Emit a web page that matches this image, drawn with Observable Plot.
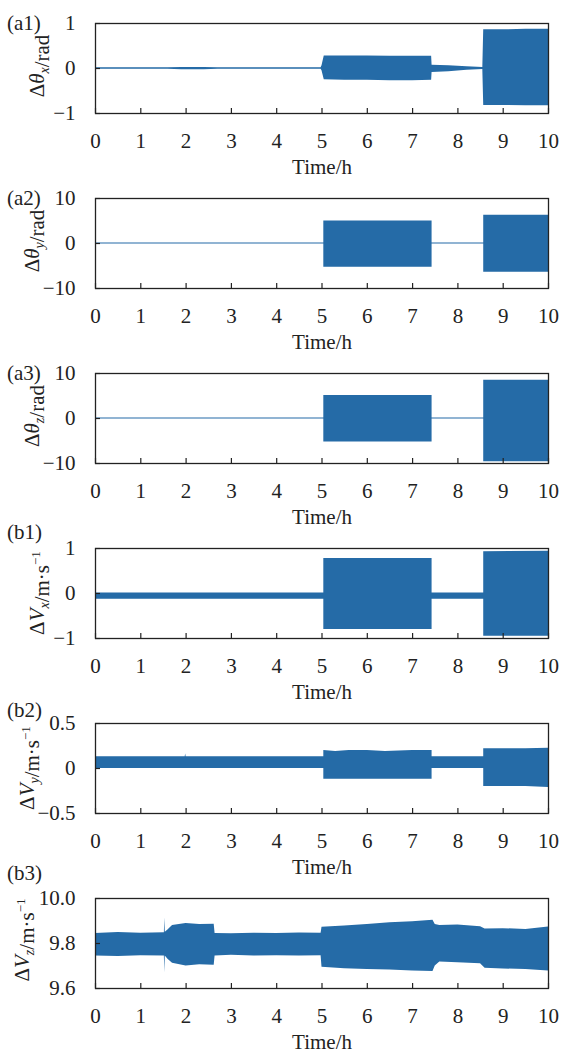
<!DOCTYPE html>
<html><head><meta charset="utf-8">
<script src="https://cdn.jsdelivr.net/npm/d3@7"></script>
<script src="https://cdn.jsdelivr.net/npm/@observablehq/plot@0.6"></script>
<style>
html,body{margin:0;padding:0;background:#fff;}
#chart{width:563px;}
#chart svg{display:block;overflow:visible;}
</style></head><body><div id="chart"></div>
<script>
// Shared x ticks (hours)
const xTicks = [0,1,2,3,4,5,6,7,8,9,10];

// (a1) Δθx envelope
const timeA1  = [0,     1.6,   1.9,   2.4,   2.7,   4.98,  5.0,   5.05,  5.5,   6.0,   6.5,   7.0,   7.42,  7.43,  7.8,   8.2,   8.55,  8.57,  9.0,   9.5,   10];
const upperA1 = [0.015, 0.015, 0.025, 0.025, 0.015, 0.015, 0.06,  0.28,  0.28,  0.28,  0.27,  0.27,  0.27,  0.07,  0.06,  0.04,  0.025, 0.86,  0.86,  0.87,  0.87];
const lowerA1 = [-0.015,-0.015,-0.025,-0.025,-0.015,-0.015,-0.05, -0.25, -0.26, -0.26, -0.27, -0.27, -0.26, -0.09, -0.07, -0.04, -0.02, -0.82, -0.82, -0.83, -0.83];
const yTicksA1 = [-1, 0, 1];

// (a2) Δθy envelope
const timeA2  = [0,    5.04, 5.04, 7.43, 7.43, 8.57, 8.57, 10];
const upperA2 = [0.11, 0.11, 5.0,  5.0,  0.11, 0.11, 6.3,  6.3];
const lowerA2 = [-0.11,-0.11,-5.3, -5.3, -0.11,-0.11,-6.4, -6.4];
const yTicksA2 = [-10, 0, 10];

// (a3) Δθz envelope
const timeA3  = [0,    5.04, 5.04, 7.43, 7.43, 8.57, 8.57, 10];
const upperA3 = [0.11, 0.11, 5.1,  5.1,  0.11, 0.11, 8.5,  8.5];
const lowerA3 = [-0.11,-0.11,-5.2, -5.2, -0.11,-0.11,-9.6, -9.6];
const yTicksA3 = [-10, 0, 10];

// (b1) ΔVx envelope
const timeB1  = [0,     5.04,  5.04,  7.43,  7.43,  8.57,  8.57,  10];
const upperB1 = [0.01,  0.01,  0.78,  0.78,  0.01,  0.01,  0.93,  0.94];
const lowerB1 = [-0.13, -0.13, -0.80, -0.80, -0.13, -0.13, -0.95, -0.95];
const yTicksB1 = [-1, 0, 1];

// (b2) ΔVy envelope
const timeB2  = [0,    1.98, 1.99, 2.0,  5.04, 5.04, 5.3,  5.6,  6.0,  6.4,  7.0,  7.43, 7.43, 8.57, 8.57, 9.5,  10];
const upperB2 = [0.13, 0.13, 0.16, 0.13, 0.13, 0.20, 0.19, 0.20, 0.20, 0.19, 0.20, 0.20, 0.13, 0.13, 0.22, 0.22, 0.225];
const lowerB2 = [0.0,  0.0,  0.0,  0.0,  0.0, -0.12,-0.12,-0.12,-0.12,-0.12,-0.12,-0.12, 0.0,  0.0, -0.20,-0.20,-0.21];
const yTicksB2 = [-0.5, 0, 0.5];

// (b3) ΔVz envelope
const timeB3  = [0,     0.5,   1.0,   1.52,  1.53,  1.54,  1.6,   1.7,   2.0,   2.3,   2.62,  2.64,  3.0,   3.5,   4.0,   4.5,   4.98,  5.0,   5.5,   6.0,   6.5,   7.0,   7.45,  7.5,   7.6,   8.0,   8.5,   8.6,   9.0,   9.5,   10];
const upperB3 = [9.845, 9.849, 9.846, 9.848, 9.913, 9.85,  9.86,  9.88,  9.889, 9.884, 9.886, 9.845, 9.843, 9.846, 9.844, 9.847, 9.846, 9.872, 9.878, 9.885, 9.892, 9.897, 9.903, 9.885, 9.88,  9.882, 9.875, 9.865, 9.866, 9.862, 9.873];
const lowerB3 = [9.745, 9.742, 9.746, 9.745, 9.67,  9.745, 9.73,  9.712, 9.70,  9.706, 9.703, 9.745, 9.748, 9.744, 9.746, 9.745, 9.746, 9.695, 9.688, 9.685, 9.682, 9.678, 9.676, 9.70,  9.718, 9.714, 9.71,  9.69,  9.687, 9.684, 9.678];
const yTicksB3 = [9.6, 9.8, 10.0];

// Text
const panelTags = ["(a1)", "(a2)", "(a3)", "(b1)", "(b2)", "(b3)"];
const xLabel = "Time/h";
// y labels: [text, kind] kind: "" normal, "i" italic, "sub" italic subscript, "sup" superscript
const yLabelA1 = [["Δ",""],["θ","i"],["x","sub"],["/rad",""]];
const yLabelA2 = [["Δ",""],["θ","i"],["y","sub"],["/rad",""]];
const yLabelA3 = [["Δ",""],["θ","i"],["z","sub"],["/rad",""]];
const yLabelB1 = [["Δ",""],["V","i"],["x","sub"],["/m·s",""],["−1","sup"]];
const yLabelB2 = [["Δ",""],["V","i"],["y","sub"],["/m·s",""],["−1","sup"]];
const yLabelB3 = [["Δ",""],["V","i"],["z","sub"],["/m·s",""],["−1","sup"]];

const panels = [
  {tag: panelTags[0], t: timeA1, up: upperA1, lo: lowerA1, domain: [-1, 1],     ticks: yTicksA1, label: yLabelA1, labelX: 44, labelY: 66, tagY: 30, fmt: d3.format("")},
  {tag: panelTags[1], t: timeA2, up: upperA2, lo: lowerA2, domain: [-10, 10],   ticks: yTicksA2, label: yLabelA2, labelX: 39, labelY: 66, tagY: 30, fmt: d3.format("")},
  {tag: panelTags[2], t: timeA3, up: upperA3, lo: lowerA3, domain: [-10, 10],   ticks: yTicksA3, label: yLabelA3, labelX: 39, labelY: 66, tagY: 30, fmt: d3.format("")},
  {tag: panelTags[3], t: timeB1, up: upperB1, lo: lowerB1, domain: [-1, 1],     ticks: yTicksB1, label: yLabelB1, labelX: 44, labelY: 68, tagY: 14, fmt: d3.format("")},
  {tag: panelTags[4], t: timeB2, up: upperB2, lo: lowerB2, domain: [-0.5, 0.5], ticks: yTicksB2, label: yLabelB2, labelX: 34, labelY: 68, tagY: 17, fmt: d3.format("")},
  {tag: panelTags[5], t: timeB3, up: upperB3, lo: lowerB3, domain: [9.6, 10.0], ticks: yTicksB3, label: yLabelB3, labelX: 29, labelY: 65, tagY: 5,  fmt: d3.format(".1f")}
];

const blue = "#256ba7";
const ink = "#222";
const font = '"Liberation Serif", "Times New Roman", serif';
const W = 563, H = 175, ML = 95, MR = 15, MT = 23, MB = 62, TICK = 5;

const root = document.getElementById("chart");
for (const p of panels) {
  const rows = p.t.map((t, i) => ({t, hi: p.up[i], lo: p.lo[i]}));
  const svg = Plot.plot({
    width: W, height: H,
    marginLeft: ML, marginRight: MR, marginTop: MT, marginBottom: MB,
    style: {fontFamily: font, fontSize: "21px", color: ink, background: "transparent", overflow: "visible"},
    x: {domain: [0, 10]},
    y: {domain: p.domain},
    marks: [
      Plot.areaY(rows, {x: "t", y1: "lo", y2: "hi", fill: blue}),
      // inward ticks
      Plot.ruleX(xTicks, {x: d => d, insetTop: H - MT - MB - TICK, stroke: ink, strokeWidth: 1.2}),
      Plot.ruleY(p.ticks, {y: d => d, insetRight: W - ML - MR - TICK, stroke: ink, strokeWidth: 1.2}),
      Plot.frame({stroke: ink, strokeWidth: 1.3}),
      Plot.axisX({ticks: xTicks, tickSize: 0, tickPadding: 20, label: null, tickFormat: d3.format(""), fontFamily: font}),
      Plot.axisY({ticks: p.ticks, tickSize: 0, tickPadding: 20, label: null, tickFormat: p.fmt, fontFamily: font}),
      Plot.text([xLabel], {text: d => d, frameAnchor: "bottom", lineAnchor: "middle", dy: 54, fontSize: 21, fontFamily: font})
    ]
  });
  const s = d3.select(svg);
  s.append("text").attr("x", 7).attr("y", p.tagY).attr("text-anchor", "start")
    .attr("font-size", 21).attr("fill", ink).text(p.tag);
  const yl = s.append("text")
    .attr("transform", `translate(${p.labelX},${p.labelY}) rotate(-90)`)
    .attr("text-anchor", "middle").attr("font-size", 21).attr("fill", ink);
  for (const [str, kind] of p.label) {
    const ts = yl.append("tspan").text(str);
    if (kind === "i") ts.attr("font-style", "italic");
    if (kind === "sub") {
      ts.attr("font-style", "italic").attr("font-size", 14).attr("dy", 5);
      yl.append("tspan").attr("dy", -5).text("");
    }
    if (kind === "sup") ts.attr("font-size", 13).attr("dy", -9);
  }
  s.selectAll("text").attr("font-family", font).style("font-family", font);
  root.appendChild(svg);
}
</script></body></html>
